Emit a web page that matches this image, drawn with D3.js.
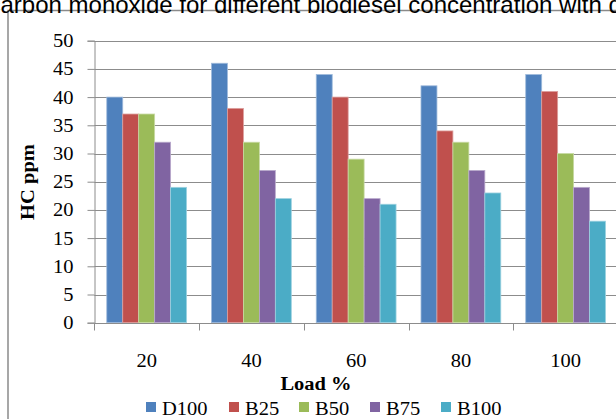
<!DOCTYPE html>
<html>
<head>
<meta charset="utf-8">
<script src="https://cdn.jsdelivr.net/npm/d3@7/dist/d3.min.js"></script>
<style>
  html, body { margin: 0; padding: 0; background: #fff; }
  svg { display: block; }
  .serif { font-family: "Liberation Serif", "Times New Roman", Times, "DejaVu Serif", serif; }
  .sans { font-family: "Liberation Sans", Arial, Helvetica, sans-serif; }
</style>
</head>
<body>
<svg id="chart" width="616" height="419"></svg>
<script>
// ---- data ----
const title = "Variation of carbon monoxide for different biodiesel concentration with different load";
const categories = ["20", "40", "60", "80", "100"];
const seriesNames = ["D100", "B25", "B50", "B75", "B100"];
const D100 = [40, 46, 44, 42, 44];
const B25  = [37, 38, 40, 34, 41];
const B50  = [37, 32, 29, 32, 30];
const B75  = [32, 27, 22, 27, 24];
const B100 = [24, 22, 21, 23, 18];
const yTicks = [0, 5, 10, 15, 20, 25, 30, 35, 40, 45, 50];
const yLabel = "HC ppm";
const xLabel = "Load %";

const seriesValues = [D100, B25, B50, B75, B100];
const colors = ["#4F81BD", "#C0504D", "#9BBB59", "#8064A2", "#4BACC6"];

// ---- layout ----
const svg = d3.select("#chart");
const plot = { left: 94.3, right: 618, top: 40.7, bottom: 322.7 };
const gap = 25 / 105;
const sx = 1.08; // horizontal stretch of the reference text
const fs = 19;

const x = d3.scaleBand().domain(categories)
  .range([plot.left, plot.right]).paddingInner(gap).paddingOuter(gap / 2);
const xs = d3.scaleBand().domain(seriesNames).range([0, x.bandwidth()]).padding(0);
const y = d3.scaleLinear().domain([0, 50]).range([plot.bottom, plot.top]);

// chart border
svg.append("rect")
  .attr("x", 8).attr("y", 10.5).attr("width", 700).attr("height", 500)
  .attr("fill", "none").attr("stroke", "#8a8a8a").attr("stroke-width", 1.5);

// title (clipped by the picture edge, as in the reference)
const t = svg.append("text")
  .attr("class", "sans")
  .attr("y", 13)
  .attr("font-size", 24)
  .attr("fill", "#000")
  .text(title);
const prefix = "Variation of c".length;
const off = t.node().getSubStringLength(0, prefix);
t.attr("x", -off + 0.5);

// gridlines
svg.append("g").selectAll("line").data(yTicks.filter(d => d > 0)).join("line")
  .attr("x1", plot.left).attr("x2", plot.right)
  .attr("y1", d => Math.round(y(d)) + 0.5).attr("y2", d => Math.round(y(d)) + 0.5)
  .attr("stroke", "#8c8c8c").attr("stroke-width", 1);

// y axis
const yAxis = svg.append("g")
  .attr("transform", `translate(${Math.round(plot.left) + 0.5},0)`)
  .call(d3.axisLeft(y).tickValues(yTicks).tickSize(7).tickPadding(14));
yAxis.attr("font-family", null).attr("font-size", null);
yAxis.select(".domain").attr("stroke", "#8c8c8c");
yAxis.selectAll(".tick line").attr("stroke", "#8c8c8c");
yAxis.selectAll(".tick text")
  .attr("class", "serif")
  .attr("font-size", fs).attr("fill", "#000")
  .attr("transform", `scale(${sx},1)`)
  .attr("x", -21 / sx);

// bars
const groups = svg.append("g").selectAll("g").data(categories).join("g")
  .attr("transform", c => `translate(${x(c)},0)`);
groups.selectAll("rect")
  .data((c, i) => seriesNames.map((s, j) => ({ s, j, v: seriesValues[j][i] })))
  .join("rect")
  .attr("x", d => xs(d.s))
  .attr("y", d => y(d.v))
  .attr("width", xs.bandwidth())
  .attr("height", d => y(0) - y(d.v))
  .attr("fill", d => colors[d.j])
  .attr("stroke", d => d3.interpolateRgb(colors[d.j], "#ffffff")(0.45))
  .attr("stroke-width", 0.8);

// x axis line + boundary ticks
const baseY = Math.round(plot.bottom) + 0.5;
svg.append("line")
  .attr("x1", plot.left).attr("x2", plot.right)
  .attr("y1", baseY).attr("y2", baseY)
  .attr("stroke", "#8c8c8c");
const bounds = categories.map(c => x(c) - x.step() * gap / 2);
svg.append("g").selectAll("line").data(bounds).join("line")
  .attr("x1", d => Math.round(d) + 0.5).attr("x2", d => Math.round(d) + 0.5)
  .attr("y1", baseY).attr("y2", baseY + 7)
  .attr("stroke", "#8c8c8c");

// x labels via axis (no ticks)
const xAxis = svg.append("g")
  .attr("transform", `translate(0,${baseY})`)
  .call(d3.axisBottom(x).tickSize(0).tickPadding(0));
xAxis.attr("font-family", null).attr("font-size", null);
xAxis.select(".domain").remove();
xAxis.selectAll(".tick text")
  .attr("class", "serif")
  .attr("font-size", fs).attr("fill", "#000")
  .attr("dy", null).attr("y", 44)
  .attr("transform", `scale(${sx},1)`)
  .attr("x", 0);

// axis titles
svg.append("text")
  .attr("class", "serif")
  .attr("transform", `translate(316,390) scale(${sx},1)`)
  .attr("text-anchor", "middle")
  .attr("font-size", fs).attr("font-weight", "bold")
  .text(xLabel);
svg.append("text")
  .attr("class", "serif")
  .attr("transform", `translate(34,182) rotate(-90) scale(${sx},1)`)
  .attr("text-anchor", "middle")
  .attr("font-size", fs).attr("font-weight", "bold")
  .text(yLabel);

// legend
const legendX = [146, 229, 299, 370, 441];
const lg = svg.append("g").selectAll("g").data(seriesNames).join("g")
  .attr("transform", (d, i) => `translate(${legendX[i]},402)`);
lg.append("rect").attr("width", 10).attr("height", 10)
  .attr("fill", (d, i) => colors[i]);
lg.append("text")
  .attr("class", "serif")
  .attr("transform", `translate(16,12.5) scale(${sx},1)`)
  .attr("font-size", fs)
  .text(d => d);
</script>
</body>
</html>
